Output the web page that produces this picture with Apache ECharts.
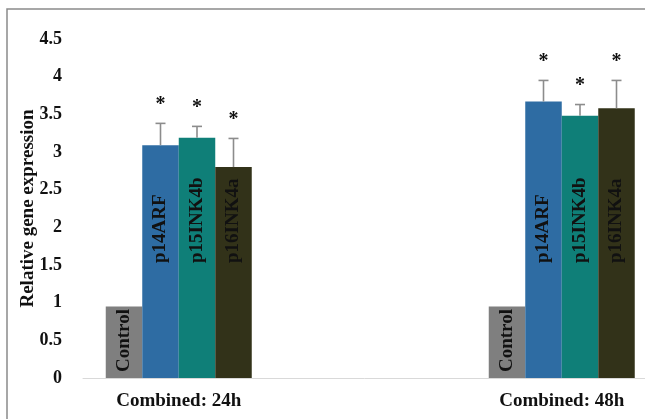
<!DOCTYPE html>
<html>
<head>
<meta charset="utf-8">
<script src="https://cdn.jsdelivr.net/npm/echarts@6/dist/echarts.min.js"></script>
<style>
  html, body { margin: 0; padding: 0; background: #fff; }
  #chart { width: 645px; height: 419px; }
</style>
</head>
<body>
<div id="chart"></div>
<script>
// Time points (an empty spacer slot sits between them on the axis)
const timePoints = ['Combined: 24h', 'Combined: 48h'];
const genes = ['Control', 'p14ARF', 'p15INK4b', 'p16INK4a'];

// Relative expression per gene, one value per time point
const controlValues = [0.95, 0.95];
const p14Values = [3.09, 3.67];
const p15Values = [3.19, 3.48];
const p16Values = [2.80, 3.58];

// Error (SD) per gene and time point; control has none
const p14Errors = [0.29, 0.28];
const p15Errors = [0.15, 0.15];
const p16Errors = [0.38, 0.37];

// Significance marks drawn above the error bars
const p14Marks = ['*', '*'];
const p15Marks = ['*', '*'];
const p16Marks = ['*', '*'];

const yTicks = [0, 0.5, 1, 1.5, 2, 2.5, 3, 3.5, 4, 4.5];

const colors = ['#7f7f7f', '#2e6ca3', '#0f7f78', '#323219'];
const serif = '"Liberation Serif", "Times New Roman", serif';
const BAR_W = 36.5;

// Expand per-time-point arrays onto the axis slots (slot 1 is the spacer)
const slotIdx = [0, 2];
const axisData = [timePoints[0], '', timePoints[1]];
function toSlots(arr) {
  const out = [null, null, null];
  arr.forEach((v, i) => { out[slotIdx[i]] = v; });
  return out;
}

const valueSets = [controlValues, p14Values, p15Values, p16Values];
const errorSets = [null, p14Errors, p15Errors, p16Errors];
const markSets = [null, p14Marks, p15Marks, p16Marks];

const barSeries = genes.map((g, gi) => ({
  name: g,
  type: 'bar',
  data: toSlots(valueSets[gi]),
  barWidth: BAR_W,
  barGap: '0%',
  itemStyle: { color: colors[gi] },
  label: {
    show: true,
    formatter: g,
    position: 'insideBottom',
    distance: gi === 0 ? 6 : 115,
    rotate: 90,
    align: 'left',
    verticalAlign: 'middle',
    color: '#111',
    fontFamily: serif,
    fontWeight: 'bold',
    fontSize: 19
  },
  z: 2
}));

// Error bars with caps and significance marks
const errData = [];
for (let gi = 1; gi < genes.length; gi++) {
  valueSets[gi].forEach((v, ti) => {
    errData.push([slotIdx[ti], v, v + errorSets[gi][ti], gi, markSets[gi][ti]]);
  });
}

const errSeries = {
  type: 'custom',
  data: errData,
  z: 5,
  renderItem: function (params, api) {
    const slot = api.value(0);
    const gi = api.value(3);
    const base = api.coord([slot, api.value(1)]);
    const top = api.coord([slot, api.value(2)]);
    const x = base[0] + (gi - 1.5) * BAR_W;
    const cap = 5;
    const style = { stroke: '#8c8c8c', lineWidth: 1.6 };
    return {
      type: 'group',
      children: [
        { type: 'line', shape: { x1: x, y1: base[1], x2: x, y2: top[1] }, style: style },
        { type: 'line', shape: { x1: x - cap, y1: top[1], x2: x + cap, y2: top[1] }, style: style },
        {
          type: 'text',
          style: {
            text: errData[params.dataIndex][4],
            x: x, y: top[1] - 19,
            align: 'center', verticalAlign: 'middle',
            fill: '#111', font: 'bold 20px ' + serif
          }
        }
      ]
    };
  }
};

const chart = echarts.init(document.getElementById('chart'));
chart.setOption({
  animation: false,
  backgroundColor: '#fff',
  graphic: [{
    type: 'rect',
    shape: { x: 7, y: 9, width: 700, height: 500 },
    style: { fill: 'none', stroke: '#8a8a8a', lineWidth: 1.5 },
    silent: true,
    z: -1
  }],
  grid: { left: 83, top: 39, width: 574.5, bottom: 41, outerBoundsMode: 'none', containLabel: false },
  xAxis: {
    type: 'category',
    data: axisData,
    axisLine: { show: true, lineStyle: { color: '#d9d9d9', width: 1 } },
    axisTick: { show: false },
    axisLabel: {
      margin: 14,
      color: '#111',
      fontFamily: serif,
      fontWeight: 'bold',
      fontSize: 19,
      interval: 0
    }
  },
  yAxis: {
    type: 'value',
    min: yTicks[0],
    max: yTicks[yTicks.length - 1],
    interval: 0.5,
    name: 'Relative gene expression',
    nameLocation: 'middle',
    nameGap: 45,
    nameMoveOverlap: false,
    nameTextStyle: { color: '#111', fontFamily: serif, fontWeight: 'bold', fontSize: 19 },
    axisLine: { show: false },
    axisTick: { show: false },
    splitLine: { show: false },
    axisLabel: {
      margin: 21,
      color: '#111',
      fontFamily: serif,
      fontWeight: 'bold',
      fontSize: 18
    }
  },
  series: barSeries.concat([errSeries])
});
</script>
</body>
</html>
